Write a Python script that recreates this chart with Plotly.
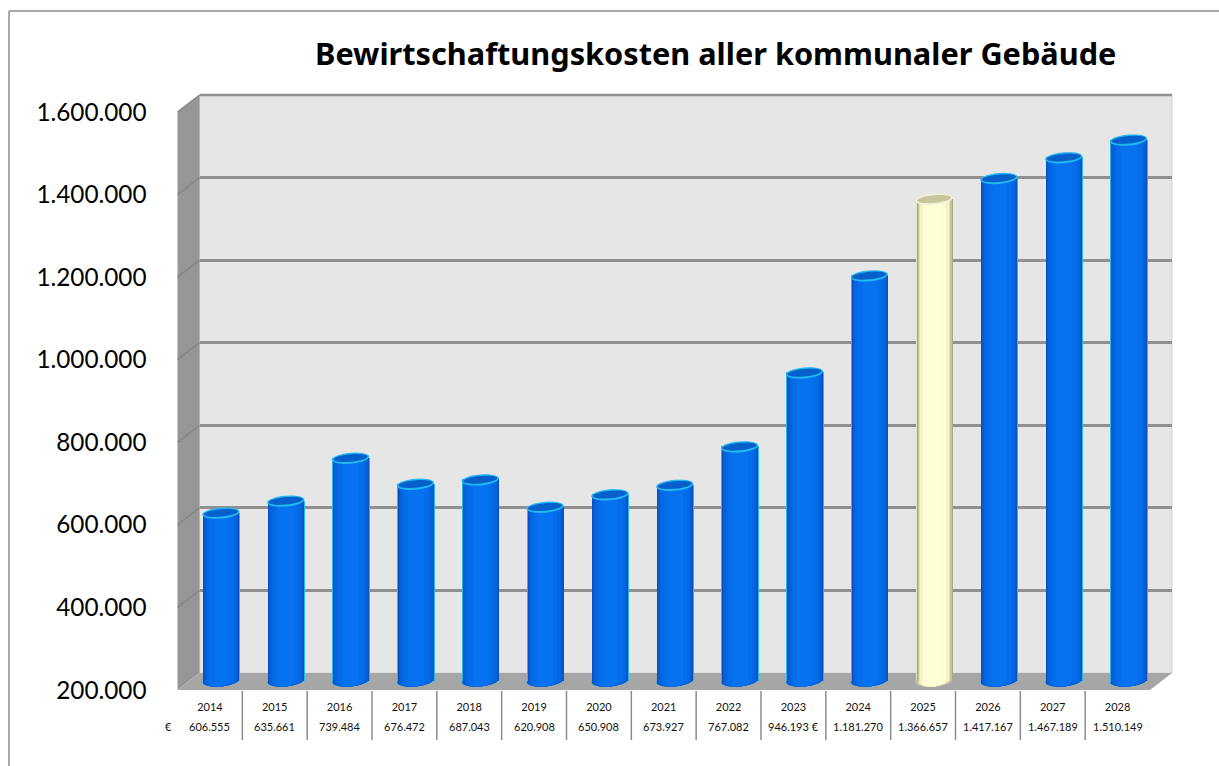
import numpy as np
import plotly.graph_objects as go

years = ["2014","2015","2016","2017","2018","2019","2020","2021","2022","2023","2024","2025","2026","2027","2028"]
values = [606555,635661,739484,676472,687043,620908,650908,673927,767082,946193,1181270,1366657,1417167,1467189,1510149]
value_labels = ["606.555","635.661","739.484","676.472","687.043","620.908","650.908","673.927","767.082","946.193 €","1.181.270","1.366.657","1.417.167","1.467.189","1.510.149"]
y_ticks = [200000,400000,600000,800000,1000000,1200000,1400000,1600000]
y_tick_labels = ["200.000","400.000","600.000","800.000","1.000.000","1.200.000","1.400.000","1.600.000"]
title = "Bewirtschaftungskosten aller kommunaler Gebäude"
highlight = "2025"

W, H = 1219, 766
# front plane (px)
FX0, FX1, FY0, FY1 = 177.5, 1150.0, 690.0, 112.0
# depth offsets
BACK_DX, BACK_DY = 22.0, -17.0
BAR_DX, BAR_DY = 11.0, -9.0
PAD = 40000
vals = np.array(values, float)
idx = np.arange(len(years))
xmin, xmax = -0.5, len(years) - 0.5
ymin, ymax = y_ticks[0], y_ticks[-1]
px_per_val = (FY0 - FY1) / (ymax - ymin)

def px(x): return x / W
def py(y): return 1 - y / H

bar_y0 = FY0 + BAR_DY + PAD * px_per_val
bar_y1 = FY1 + BAR_DY - PAD * px_per_val

fig = go.Figure()

# invisible traces so that the front and back axes are drawn (back comes first: it lies below the bars)
fig.add_trace(go.Scatter(x=idx, y=vals, mode="markers", marker=dict(opacity=0, size=1), xaxis="x", yaxis="y",
                         showlegend=False, hoverinfo="skip"))
fig.add_trace(go.Scatter(x=idx, y=vals, mode="markers", marker=dict(opacity=0, size=1), xaxis="x2", yaxis="y2",
                         showlegend=False, hoverinfo="skip"))

layers = [  # width, blue colour, yellow colour
    (0.575, "#22B8F0", "#E4E4BE"),
    (0.555, "#0650C0", "#A9A97E"),
    (0.525, "#055AD0", "#C4C49C"),
    (0.490, "#0462DC", "#E2E2B8"),
    (0.440, "#0468E4", "#F4F4CC"),
    (0.360, "#046EEA", "#FDFDD2"),
    (0.240, "#0672F0", "#FFFFD6"),
]
for w, blue, yellow in layers:
    colors = [yellow if yr == highlight else blue for yr in years]
    fig.add_trace(go.Bar(x=idx, y=vals - ymin, base=ymin, width=w, xaxis="x3", yaxis="y3",
                         marker=dict(color=colors, line_width=0), showlegend=False,
                         hovertext=value_labels, hoverinfo="x+text"))

shapes = []
def poly(points, fill, line=None, lw=0, layer="below"):
    d = "M " + " L ".join(f"{px(a):.5f},{py(b):.5f}" for a, b in points) + " Z"
    shapes.append(dict(type="path", path=d, xref="paper", yref="paper", fillcolor=fill,
                       line=dict(color=line or fill, width=lw), layer=layer))

# outer frame: only the left and the top edge are in the picture
FRAME = dict(color="#8C8C8C", width=1.5)
shapes.append(dict(type="line", xref="paper", yref="paper", x0=px(9), x1=1, y0=py(11), y1=py(11), line=FRAME, layer="below"))
shapes.append(dict(type="line", xref="paper", yref="paper", x0=px(9), x1=px(9), y0=py(11), y1=0, line=FRAME, layer="below"))
# walls
poly([(FX0+BACK_DX, FY1+BACK_DY), (FX1+BACK_DX, FY1+BACK_DY), (FX1+BACK_DX, FY0+BACK_DY), (FX0+BACK_DX, FY0+BACK_DY)], "#E6E6E6", "#D2D2D2", 1)
poly([(FX0, FY1), (FX0+BACK_DX, FY1+BACK_DY), (FX0+BACK_DX, FY0+BACK_DY), (FX0, FY0)], "#969696")
poly([(FX0, FY0), (FX0+BACK_DX, FY0+BACK_DY), (FX1+BACK_DX, FY0+BACK_DY), (FX1, FY0)], "#A6A6A6")
# diagonal gridlines on the left wall
for t in y_ticks[1:]:
    yy = FY0 - (t - ymin) * px_per_val
    shapes.append(dict(type="line", xref="paper", yref="paper", x0=px(FX0), y0=py(yy), x1=px(FX0+BACK_DX), y1=py(yy+BACK_DY),
                       line=dict(color="#868686", width=1.5), layer="below"))
# the gridline on the top edge of the back wall (the axis drops the one at its limit)
shapes.append(dict(type="line", xref="x2", yref="paper", x0=xmin, x1=xmax, y0=py(FY1+BACK_DY), y1=py(FY1+BACK_DY),
                   line=dict(color="#909090", width=2.5), layer="below"))

# table separators
for i in idx[:-1]:
    shapes.append(dict(type="line", xref="x", yref="paper", x0=i+0.5, x1=i+0.5, y0=py(FY0+1), y1=py(740),
                       line=dict(color="#8C8C8C", width=1.5)))

# cylinder caps: slightly tilted ellipses, centred on each value
RY = 5.5 / px_per_val
TILT = 1.5 / px_per_val
ANGLES = np.linspace(0, 2 * np.pi, 28, endpoint=False)
def ellipse(cx, cy, rx, ry, fill, layer="above"):
    pts = [(cx + rx * np.cos(a), cy + ry * np.sin(a) + TILT * np.cos(a)) for a in ANGLES]
    d = "M " + " L ".join(f"{a:.4f},{b:.1f}" for a, b in pts) + " Z"
    shapes.append(dict(type="path", path=d, xref="x3", yref="y3", fillcolor=fill, line_width=0, layer=layer))

for i, v in enumerate(vals):
    yel = years[i] == highlight
    for w, blue, yellow in layers:
        ellipse(i, ymin, w / 2, RY, yellow if yel else blue, layer="below")
    rx = layers[0][0] / 2
    ellipse(i, v, rx, RY, "#F2F2D8" if yel else "#22B8F0")
    ellipse(i, v + RY * 0.05, rx - 0.025, RY * 0.68, "#C6C69C" if yel else "#0560CC")

annotations = [dict(text=f"<b>{title}</b>", xref="paper", yref="paper", x=px(715), y=py(53), xanchor="center", yanchor="middle",
                    showarrow=False, font=dict(family="Noto Sans, sans-serif", size=30.7, color="#000"))]
for i, lab in enumerate(value_labels):
    annotations.append(dict(text=lab, xref="x", yref="paper", x=i, y=py(726.5), xanchor="center", yanchor="middle",
                            showarrow=False, font=dict(family="Lato, sans-serif", size=11, color="#111")))
annotations.append(dict(text="€", xref="paper", yref="paper", x=px(168), y=py(726), xanchor="center", yanchor="middle",
                        showarrow=False, font=dict(family="Lato, sans-serif", size=11, color="#111")))

common_x = dict(range=[xmin, xmax], autorange=False, fixedrange=True, showgrid=False, zeroline=False, automargin=False)
fig.update_layout(
    width=W, height=H, margin=dict(l=0, r=0, t=0, b=0), paper_bgcolor="white", plot_bgcolor="rgba(0,0,0,0)",
    barmode="overlay", bargap=0, hovermode="closest", showlegend=False, shapes=shapes, annotations=annotations,
    xaxis=dict(common_x, domain=[px(FX0), px(FX1)], anchor="y", tickmode="array", tickvals=idx, ticktext=years, ticks="",
               tickfont=dict(family="Lato, sans-serif", size=11, color="#111"), showline=False, ticklabelstandoff=9),
    yaxis=dict(domain=[py(FY0), py(FY1)], anchor="x", range=[ymin, ymax], autorange=False, fixedrange=True, tickmode="array",
               tickvals=y_ticks, ticktext=y_tick_labels, showgrid=False, zeroline=False, ticks="", ticklabelstandoff=30,
               tickfont=dict(family="Lato, sans-serif", size=24.3, color="#000"), automargin=False),
    xaxis2=dict(common_x, domain=[px(FX0+BACK_DX), px(FX1+BACK_DX)], anchor="y2", visible=False),
    yaxis2=dict(domain=[py(FY0+BACK_DY), py(FY1+BACK_DY)], anchor="x2", range=[ymin, ymax], autorange=False, fixedrange=True,
                tickmode="array", tickvals=y_ticks, showticklabels=False, showgrid=True, gridcolor="#909090", gridwidth=2.5,
                zeroline=False, ticks="", automargin=False),
    xaxis3=dict(common_x, domain=[px(FX0+BAR_DX), px(FX1+BAR_DX)], anchor="y3", visible=False),
    yaxis3=dict(domain=[py(bar_y0), py(bar_y1)], anchor="x3", range=[ymin-PAD, ymax+PAD], autorange=False, fixedrange=True,
                visible=False, automargin=False),
)
fig.write_html("out.html", config={"displayModeBar": False},
               post_script="document.body.style.margin='0';document.body.style.overflow='hidden';")
